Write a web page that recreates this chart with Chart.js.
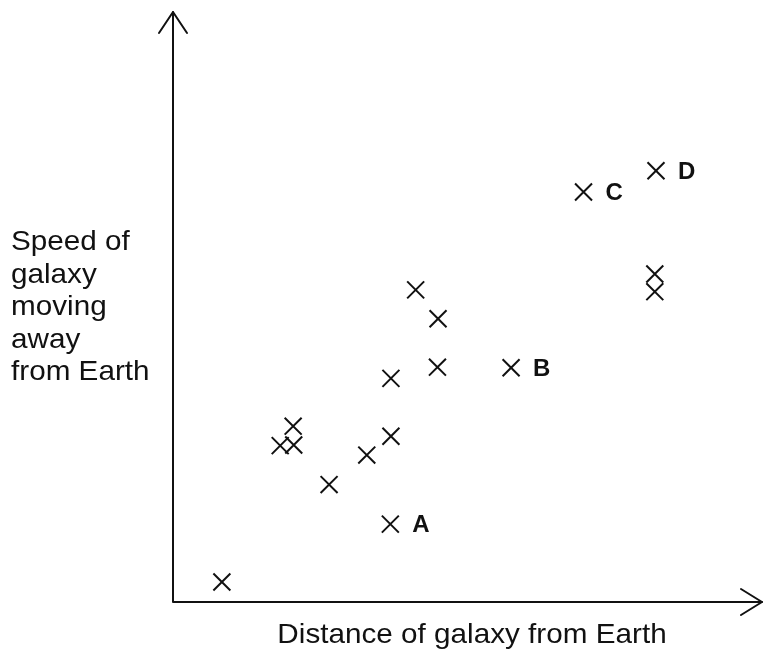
<!DOCTYPE html>
<html>
<head>
<meta charset="utf-8">
<script src="https://cdn.jsdelivr.net/npm/chart.js@4/dist/chart.umd.min.js"></script>
<style>
  html, body { margin: 0; padding: 0; background: #fff; }
  #chartBox { width: 764px; height: 649px; }
</style>
</head>
<body>
<div id="chartBox"><canvas id="galaxyChart"></canvas></div>
<script>
const galaxyChartId = "galaxyChart";

// galaxy readings (arbitrary units, 0-100 on both axes)
const distanceValues = [8.3, 18.2, 20.4, 20.5, 26.5, 32.9, 37.0, 36.9, 37.0, 41.2, 45.0, 44.9, 57.4, 69.7, 82.0, 81.8, 81.8];
const speedValues = [3.4, 26.5, 29.8, 26.6, 19.9, 24.9, 28.1, 13.2, 37.9, 52.9, 48.0, 39.8, 39.7, 69.5, 73.1, 55.6, 52.6];
const pointLabels = ["", "", "", "", "", "", "", "A", "", "", "", "", "B", "C", "D", "", ""];

const xAxisTitle = "Distance of galaxy from Earth";
const yAxisTitleLines = ["Speed of", "galaxy", "moving", "away", "from Earth"];

const fontFamily = "'Liberation Sans', Arial, sans-serif";
// the original lettering is a touch wider than Arial
const textStretch = 1.06;

function buildPoints() {
    let points = [];
    for (let i = 0; i < distanceValues.length; i++) {
        points.push({ x: distanceValues[i], y: speedValues[i] });
    }
    return points;
}

function drawStretchedText(ctx, text, x, y) {
    ctx.save();
    ctx.translate(x, y);
    ctx.scale(textStretch, 1);
    ctx.fillText(text, 0, 0);
    ctx.restore();
}

// draws the two arrowed axes, axis titles and the letter labels
const axesAndLabelsPlugin = {
    id: "axesAndLabels",
    afterDatasetsDraw(chart) {
        const ctx = chart.ctx;
        const area = chart.chartArea;
        ctx.save();
        ctx.strokeStyle = "#111";
        ctx.lineWidth = 2;
        ctx.lineCap = "round";
        ctx.lineJoin = "round";

        ctx.beginPath();
        ctx.moveTo(area.left, area.top);
        ctx.lineTo(area.left, area.bottom);
        ctx.lineTo(area.right, area.bottom);
        ctx.stroke();

        // arrow heads
        ctx.beginPath();
        ctx.moveTo(area.left - 14, area.top + 21);
        ctx.lineTo(area.left, area.top);
        ctx.lineTo(area.left + 14, area.top + 21);
        ctx.moveTo(area.right - 21, area.bottom - 13);
        ctx.lineTo(area.right, area.bottom);
        ctx.lineTo(area.right - 21, area.bottom + 13);
        ctx.stroke();

        ctx.fillStyle = "#111";
        ctx.font = "28px " + fontFamily;
        ctx.textBaseline = "alphabetic";
        ctx.textAlign = "center";
        drawStretchedText(ctx, xAxisTitle, 472, 643);

        ctx.textAlign = "left";
        yAxisTitleLines.forEach(function (line, i) {
            drawStretchedText(ctx, line, 11, 250 + i * 32.5);
        });

        ctx.font = "bold 24px " + fontFamily;
        const meta = chart.getDatasetMeta(0);
        meta.data.forEach(function (pt, i) {
            if (pointLabels[i]) {
                ctx.fillText(pointLabels[i], pt.x + 22, pt.y + 8);
            }
        });
        ctx.restore();
    }
};

function generateGalaxyChart() {
    const chartData = {
        datasets: [{
            data: buildPoints(),
            pointStyle: "crossRot",
            radius: 12,
            borderColor: "#111",
            borderWidth: 2,
            showLine: false
        }]
    };

    const chartOptions = {
        responsive: true,
        maintainAspectRatio: false,
        animation: false,
        layout: {
            autoPadding: false,
            padding: { left: 173, right: 2, top: 12, bottom: 47 }
        },
        plugins: {
            legend: { display: false },
            tooltip: { enabled: false }
        },
        scales: {
            x: { type: "linear", min: 0, max: 100, display: false },
            y: { type: "linear", min: 0, max: 100, display: false }
        }
    };

    const ctx = document.getElementById(galaxyChartId).getContext("2d");
    new Chart(ctx, {
        type: "scatter",
        data: chartData,
        options: chartOptions,
        plugins: [axesAndLabelsPlugin]
    });
}

generateGalaxyChart();
</script>
</body>
</html>
